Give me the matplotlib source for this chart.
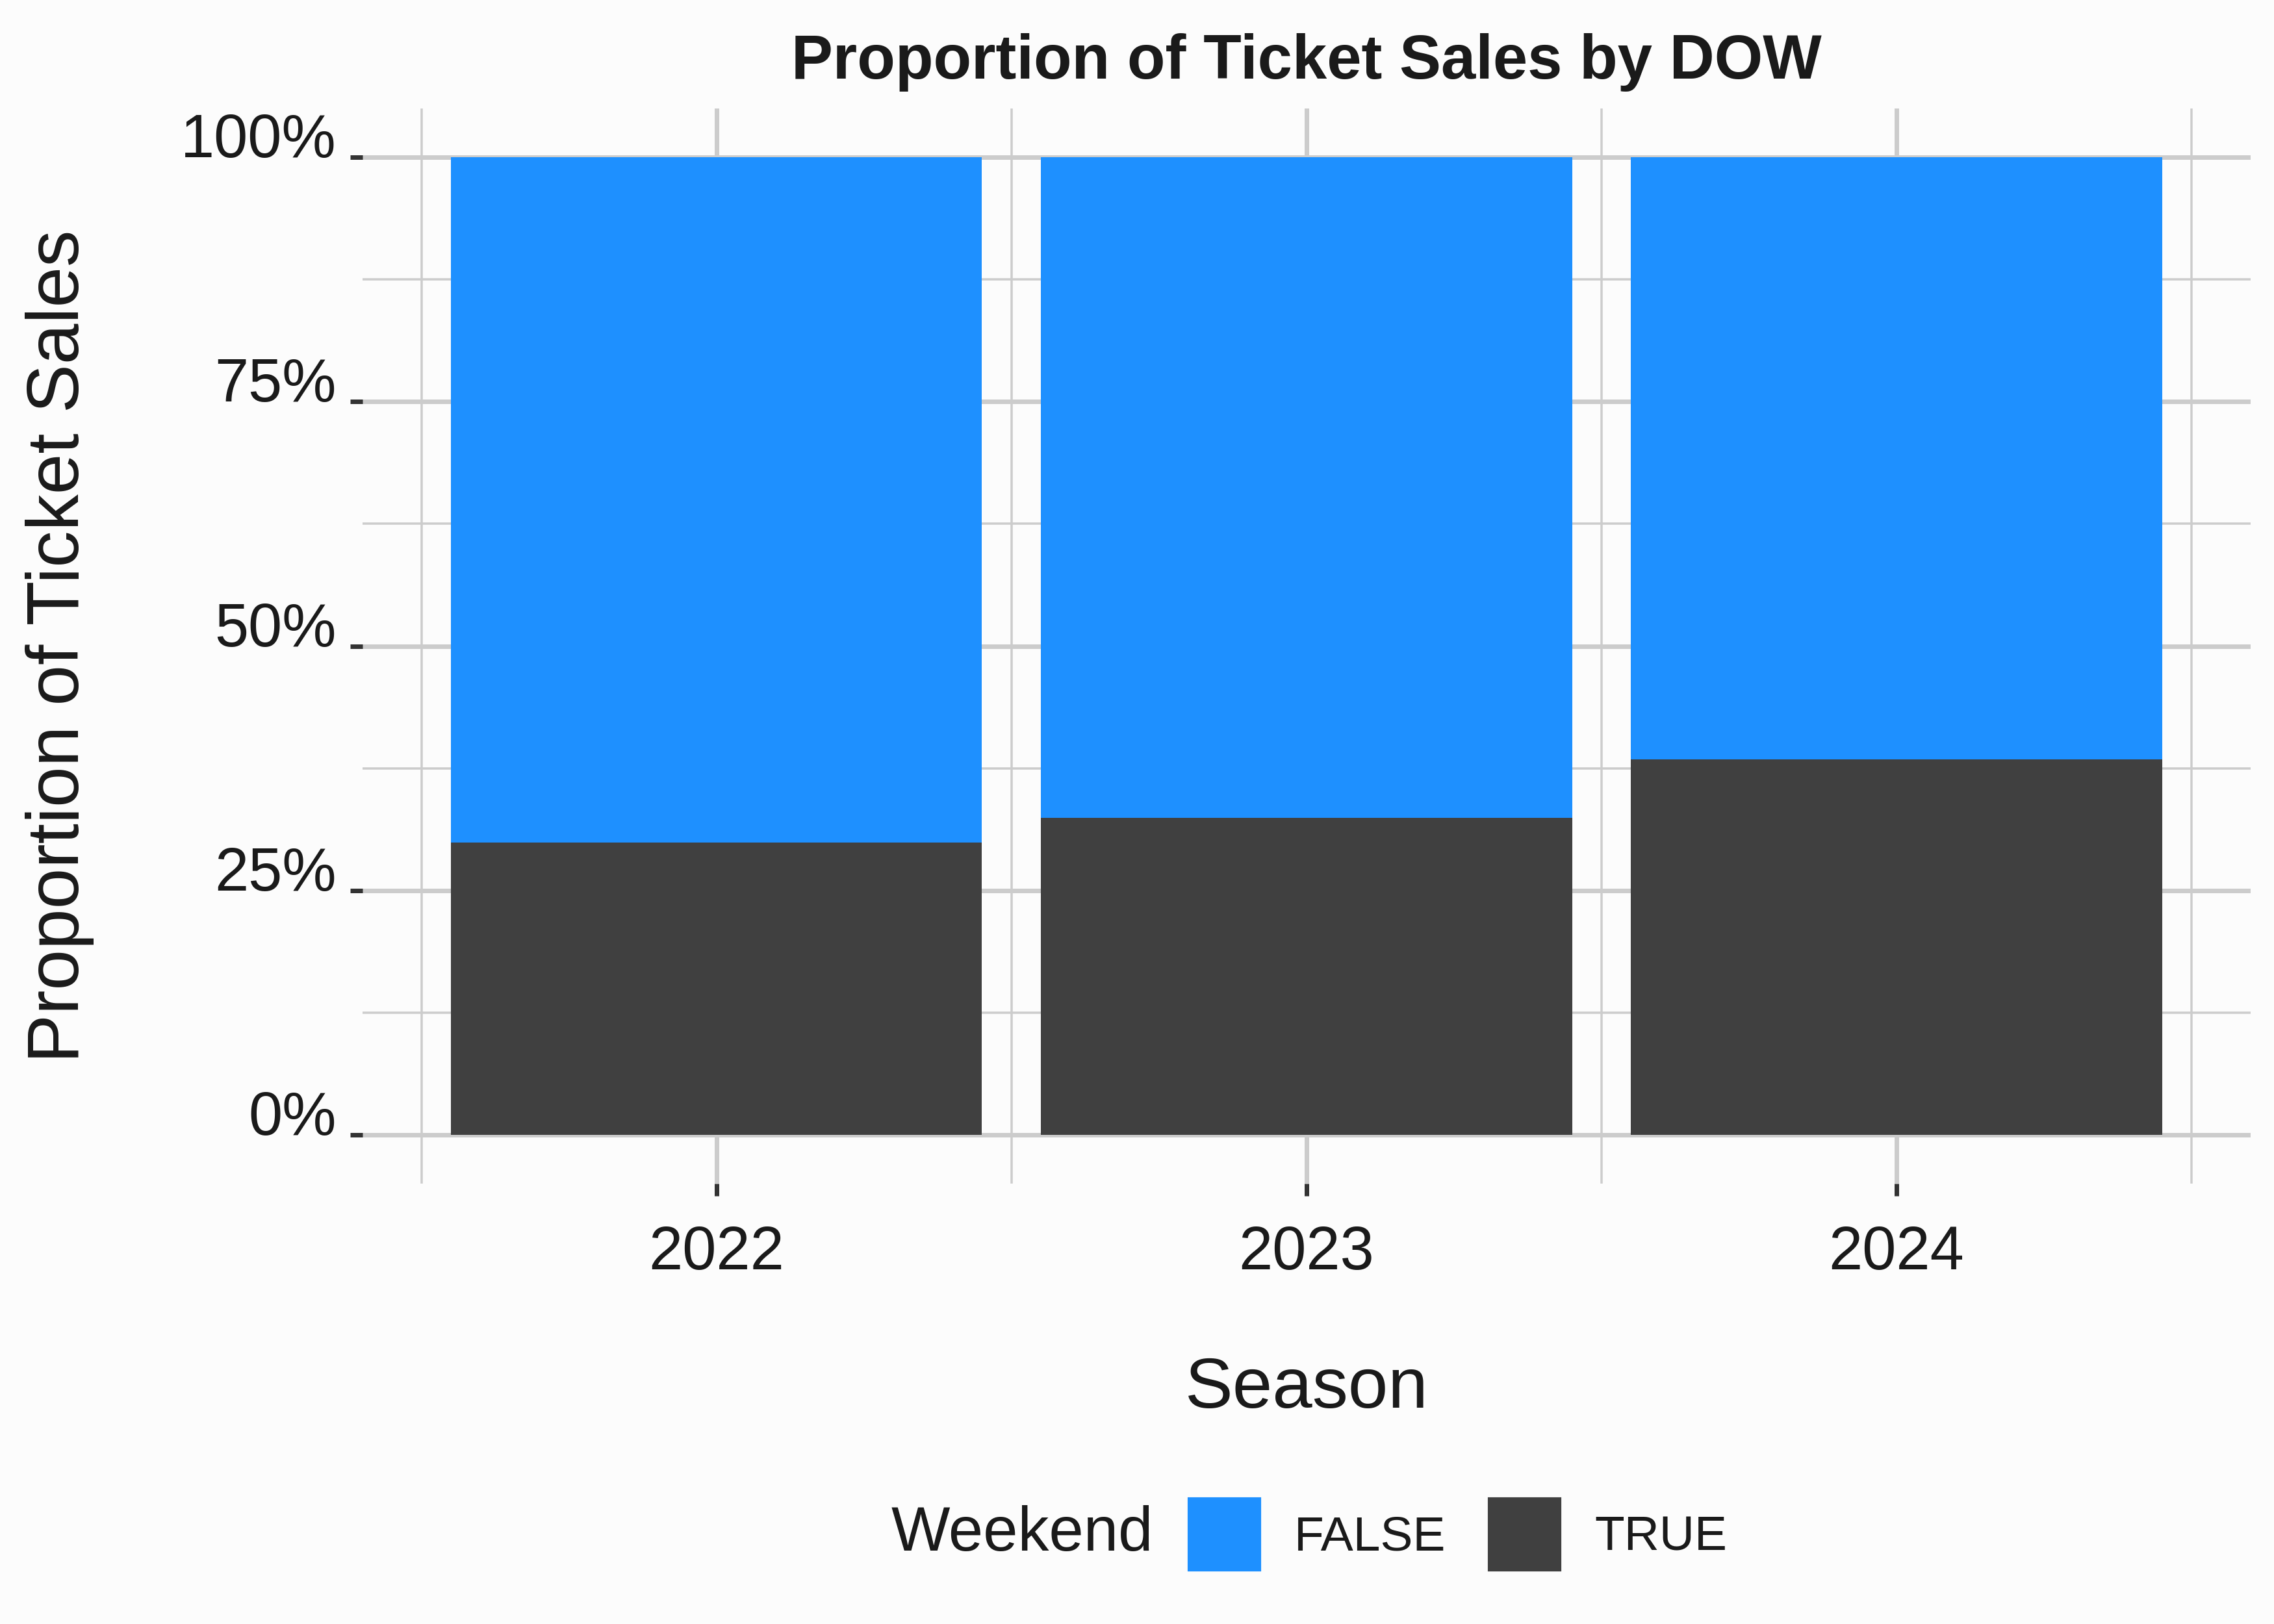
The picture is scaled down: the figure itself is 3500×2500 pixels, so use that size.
import matplotlib.pyplot as plt
from matplotlib.patches import Patch
from matplotlib.ticker import FixedLocator

plt.rcParams['font.family'] = ['Liberation Sans', 'DejaVu Sans']

seasons = ['2022', '2023', '2024']
weekend_true = [0.299, 0.324, 0.384]
weekend_false = [0.701, 0.676, 0.616]
y_ticks = [0, 0.25, 0.5, 0.75, 1.0]
y_tick_labels = ['0%', '25%', '50%', '75%', '100%']
y_minor = [0.125, 0.375, 0.625, 0.875]

blue = '#1E90FF'
dark = '#404040'
bg = '#fcfcfc'
grid_col = '#cccccc'
txt = '#1a1a1a'


def barChart():
    fig = plt.figure(figsize=(3500 / 300, 2500 / 300), dpi=300, facecolor=bg)
    ax = fig.add_axes([0.1594, 0.2712, 0.9897 - 0.1594, 0.9332 - 0.2712])
    ax.set_facecolor(bg)

    x = list(range(len(seasons)))
    ax.bar(x, weekend_true, width=0.9, color=dark, zorder=3)
    ax.bar(x, weekend_false, width=0.9, bottom=weekend_true, color=blue, zorder=3)

    ax.set_xlim(-0.6, len(seasons) - 0.4)
    ax.set_ylim(-0.05, 1.05)
    for s in ax.spines.values():
        s.set_visible(False)

    ax.set_xticks(x)
    ax.set_xticklabels(seasons)
    ax.xaxis.set_minor_locator(FixedLocator([i - 0.5 for i in range(len(seasons) + 1)]))
    ax.set_yticks(y_ticks)
    ax.set_yticklabels(y_tick_labels)
    ax.yaxis.set_minor_locator(FixedLocator(y_minor))

    ax.grid(which='major', color=grid_col, linewidth=1.68, zorder=0)
    ax.grid(which='minor', color=grid_col, linewidth=0.84, zorder=0)
    ax.set_axisbelow(True)

    ax.tick_params(which='major', length=4.6, width=1.68, color='#333333',
                   labelsize=22.5, labelcolor=txt)
    ax.tick_params(axis='x', which='major', pad=10.5)
    ax.tick_params(axis='y', which='major', pad=5)
    ax.tick_params(which='minor', length=0)
    for lab in ax.get_yticklabels():
        lab.set_verticalalignment('baseline')

    ax.set_xlabel('Season', fontsize=26.5, color=txt, labelpad=27.5)
    ax.set_ylabel('Proportion of Ticket Sales', fontsize=27, color=txt, labelpad=32)
    ax.set_title('Proportion of Ticket Sales by DOW', fontsize=23, fontweight='bold',
                 color=txt, pad=11)

    handles = [Patch(color=blue, label='FALSE'), Patch(color=dark, label='TRUE')]
    fig.legend(handles=handles, loc='center left', bbox_to_anchor=(0.5229, 0.0552),
               ncol=2, frameon=False, fontsize=18, handlelength=1.45, handleheight=1.86,
               handletextpad=0.71, columnspacing=0.89, borderpad=0, borderaxespad=0,
               labelcolor=txt)
    fig.text(0.5071, 0.0552, 'Weekend', fontsize=23, color=txt, ha='right', va='center')

    fig.savefig('out.png', dpi=300, facecolor=bg)


def main():
    barChart()


if __name__ == "__main__":
    main()
